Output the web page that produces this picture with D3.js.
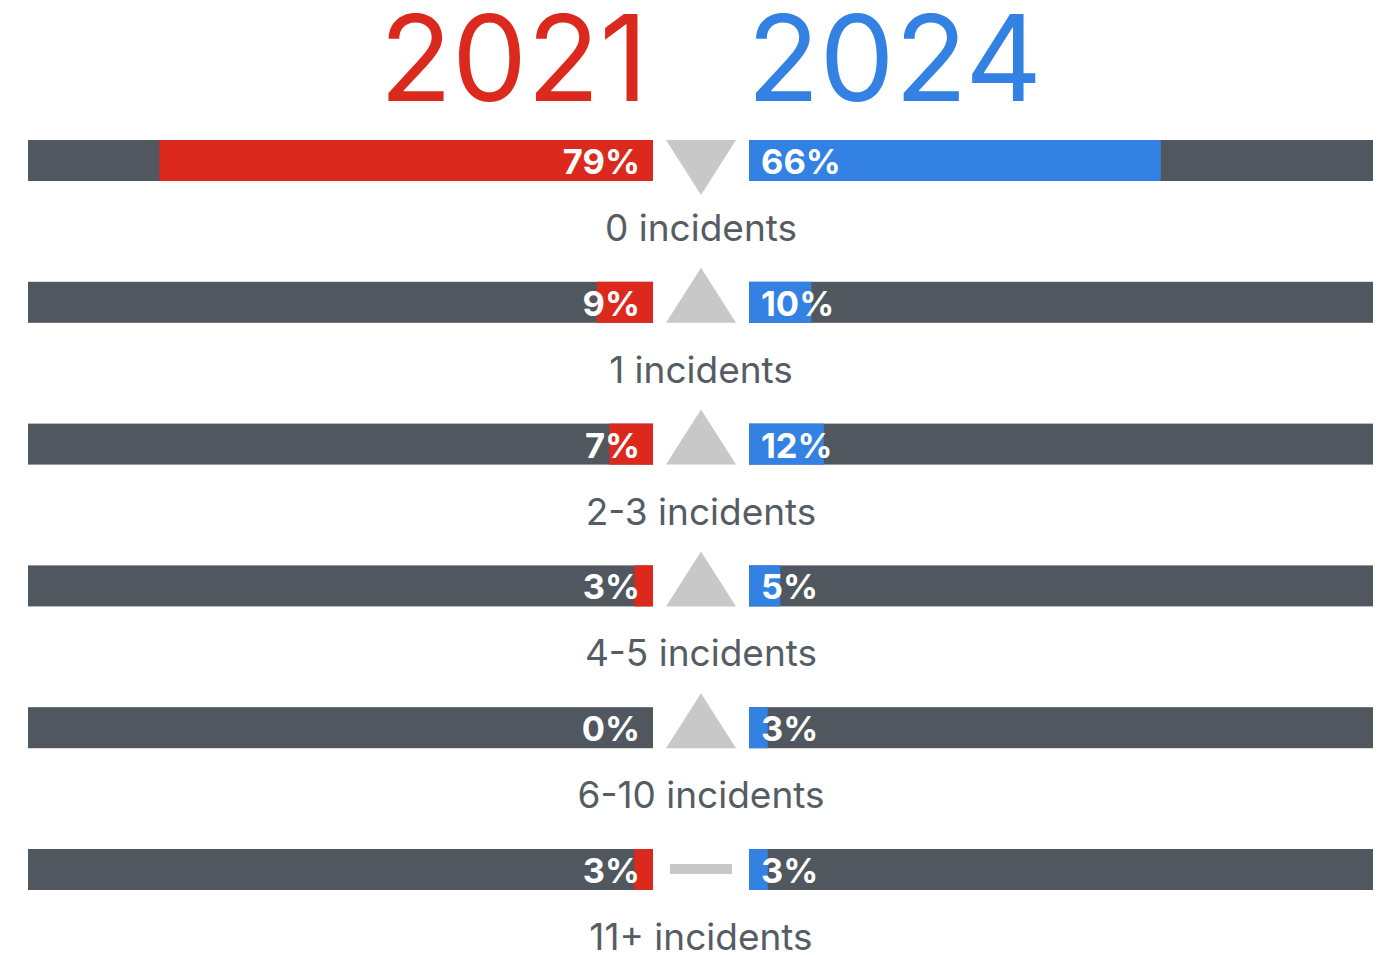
<!DOCTYPE html>
<html>
<head>
<meta charset="utf-8">
<script src="https://cdn.jsdelivr.net/npm/d3@7"></script>
<style>
  html, body { margin: 0; padding: 0; background: #fff; }
  svg { display: block; font-family: Inter, "Noto Sans", sans-serif; }
</style>
</head>
<body>
<script>
var categories = ["0 incidents", "1 incidents", "2-3 incidents", "4-5 incidents", "6-10 incidents", "11+ incidents"];
var values2021 = [79, 9, 7, 3, 0, 3];
var values2024 = [66, 10, 12, 5, 3, 3];
var years = ["2021", "2024"];

var width = 1392, height = 955;
var red = "#dc291e", blue = "#3281e3", grey = "#50575e", tri = "#c8c8c8";
var barH = 41;

var svg = d3.select("body").append("svg")
    .attr("width", width)
    .attr("height", height);

// left side grows from the middle to the left, right side the other way
var xl = d3.scaleLinear().domain([0, 100]).range([653, 28]);
var xr = d3.scaleLinear().domain([0, 100]).range([749, 1373]);
var y = d3.scalePoint().domain(categories).range([140, 849]);
var cx = 701;

var rows = categories.map(function (c, i) {
    return { cat: c, a: values2021[i], b: values2024[i] };
});

// titles
svg.append("text")
    .attr("x", 648).attr("y", 101)
    .attr("text-anchor", "end")
    .attr("fill", red)
    .attr("font-size", 119)
    .text(years[0]);
svg.append("text")
    .attr("x", 747).attr("y", 101)
    .attr("text-anchor", "start")
    .attr("fill", blue)
    .attr("font-size", 119)
    .text(years[1]);

var g = svg.selectAll("g.row")
    .data(rows)
    .enter().append("g")
    .attr("class", "row")
    .attr("transform", function (d) { return "translate(0," + y(d.cat) + ")"; });

// background bars
g.append("rect")
    .attr("x", xl(100)).attr("width", xl(0) - xl(100))
    .attr("height", barH).attr("fill", grey);
g.append("rect")
    .attr("x", xr(0)).attr("width", xr(100) - xr(0))
    .attr("height", barH).attr("fill", grey);

// value bars
g.append("rect")
    .attr("x", function (d) { return xl(d.a); })
    .attr("width", function (d) { return xl(0) - xl(d.a); })
    .attr("height", barH).attr("fill", red);
g.append("rect")
    .attr("x", xr(0))
    .attr("width", function (d) { return xr(d.b) - xr(0); })
    .attr("height", barH).attr("fill", blue);

// labels
g.append("text")
    .attr("x", xl(0) - 13).attr("y", 34)
    .attr("text-anchor", "end")
    .attr("fill", "#fff").attr("font-weight", 700).attr("font-size", 34.5)
    .text(function (d) { return d.a + "%"; });
g.append("text")
    .attr("x", xr(0) + 12).attr("y", 34)
    .attr("fill", "#fff").attr("font-weight", 700).attr("font-size", 34.5)
    .text(function (d) { return d.b + "%"; });

// change markers
g.each(function (d) {
    var s = d3.select(this);
    if (d.b < d.a) {
        s.append("path")
            .attr("d", "M" + (cx - 35) + ",0 L" + (cx + 35) + ",0 L" + cx + "," + (barH + 14) + "Z")
            .attr("fill", tri);
    } else if (d.b > d.a) {
        s.append("path")
            .attr("d", "M" + (cx - 35) + "," + barH + " L" + (cx + 35) + "," + barH + " L" + cx + ",-14Z")
            .attr("fill", tri);
    } else {
        s.append("rect")
            .attr("x", cx - 31).attr("y", 15)
            .attr("width", 62).attr("height", 10)
            .attr("fill", tri);
    }
});

// category names
g.append("text")
    .attr("x", cx).attr("y", 101)
    .attr("text-anchor", "middle")
    .attr("fill", "#555c63").attr("font-size", 37)
    .text(function (d) { return d.cat; });
</script>
</body>
</html>
